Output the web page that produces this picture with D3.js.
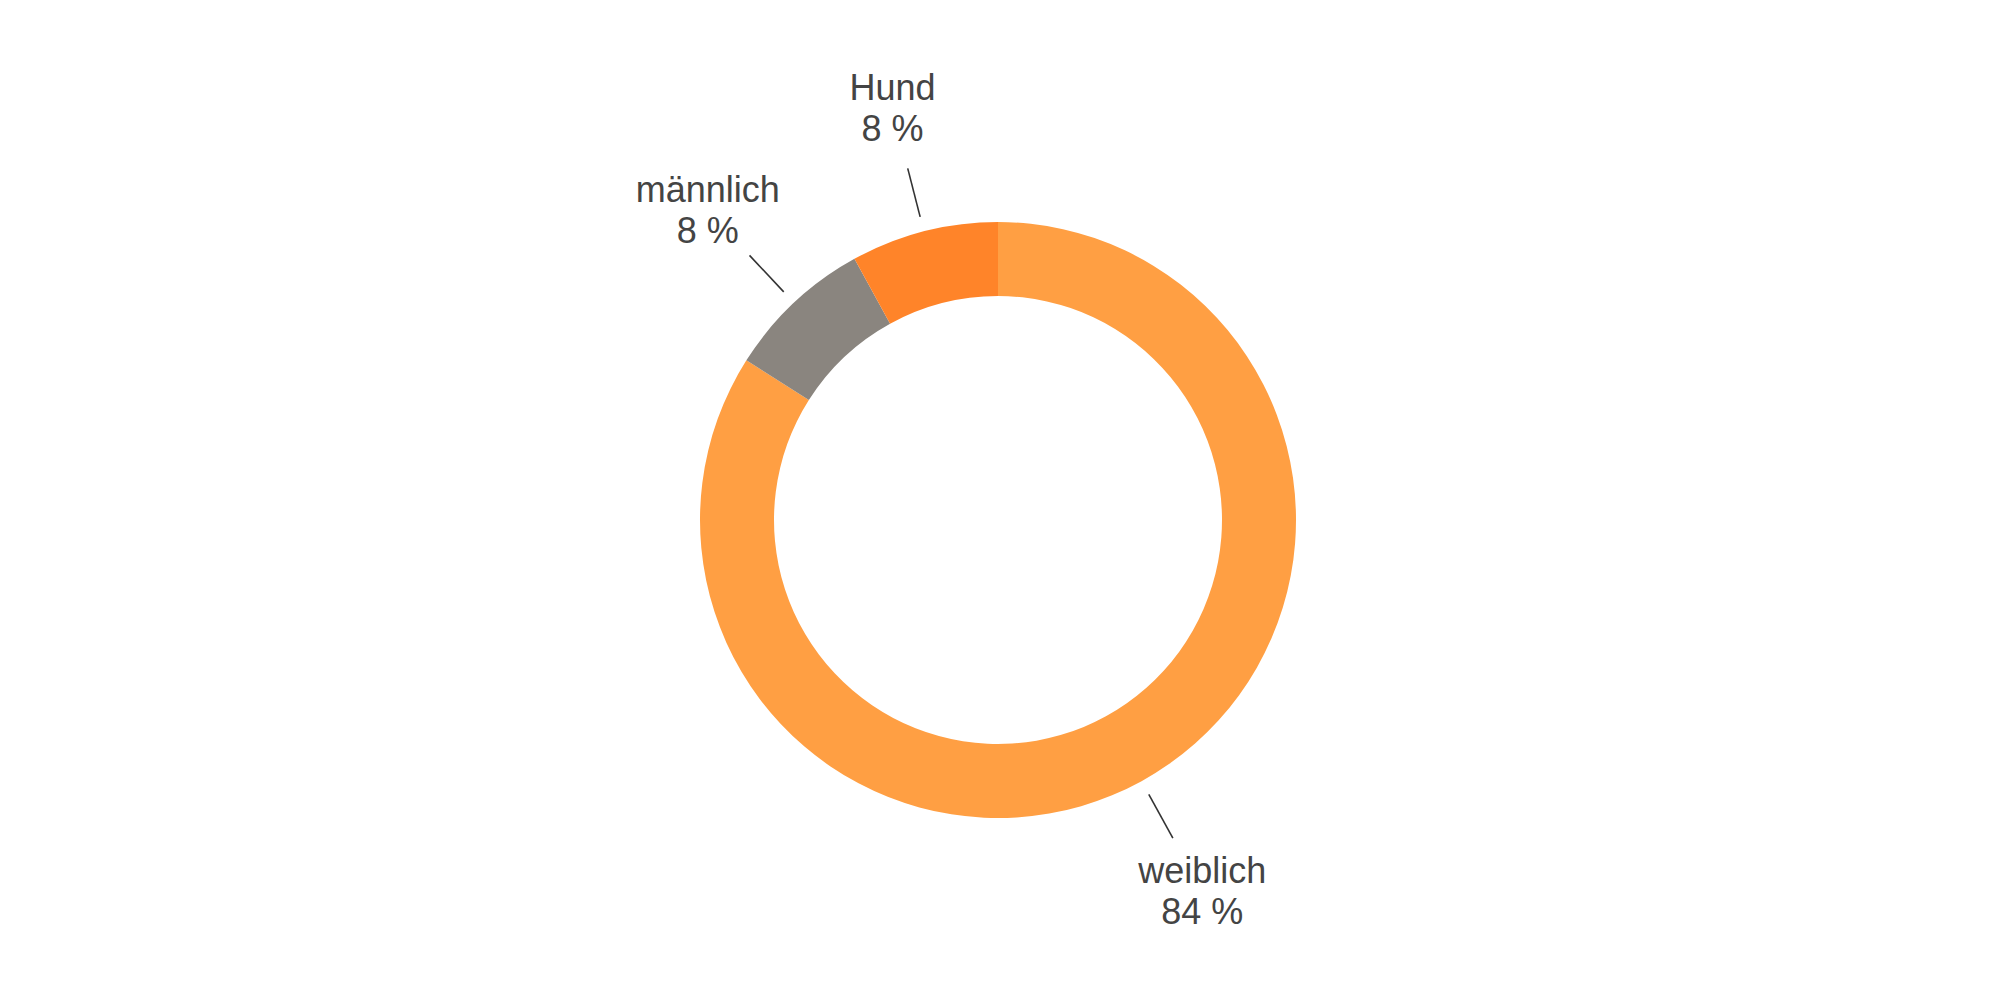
<!DOCTYPE html>
<html>
<head>
<meta charset="utf-8">
<script src="https://cdn.jsdelivr.net/npm/d3@7"></script>
<style>
  body { margin: 0; background: #fff; }
</style>
</head>
<body>
<script>
// Datos del gráfico
const categorias = ["weiblich", "männlich", "Hund"];
const valores = [84, 8, 8];
const colores = ["#FF9F43", "#8A857F", "#FF8429"];

const ancho = 2000, alto = 1000;
const cx = 998, cy = 520;

const svg = d3.select("body").append("svg")
  .attr("width", ancho)
  .attr("height", alto);

const g = svg.append("g").attr("transform", `translate(${cx},${cy})`);

// Pie sin ordenar, empezando arriba y en sentido horario
const pie = d3.pie().sort(null).value((d) => d.valor);
const datos = pie(categorias.map((c, i) => ({ nombre: c, valor: valores[i], color: colores[i] })));

const arco = d3.arc().innerRadius(224).outerRadius(298);

g.selectAll("path")
  .data(datos)
  .join("path")
  .attr("d", arco)
  .attr("fill", (d) => d.data.color);

// Arcos auxiliares para las líneas y etiquetas
const radio = (r) => d3.arc().innerRadius(r).outerRadius(r);
const lineaIni = radio(313), lineaFin = radio(363), etiqueta = radio(424);

g.selectAll("line")
  .data(datos)
  .join("line")
  .attr("x1", (d) => lineaIni.centroid(d)[0])
  .attr("y1", (d) => lineaIni.centroid(d)[1])
  .attr("x2", (d) => lineaFin.centroid(d)[0])
  .attr("y2", (d) => lineaFin.centroid(d)[1])
  .attr("stroke", "#333")
  .attr("stroke-width", 1.6);

const textos = g.selectAll("text")
  .data(datos)
  .join("text")
  .attr("transform", (d) => `translate(${etiqueta.centroid(d)})`)
  .attr("text-anchor", "middle")
  .attr("font-family", "'Liberation Sans', Arial, sans-serif")
  .attr("font-size", 36)
  .attr("fill", "#444");

textos.append("tspan")
  .attr("x", 0)
  .attr("y", -9)
  .text((d) => d.data.nombre);

textos.append("tspan")
  .attr("x", 0)
  .attr("y", 32)
  .text((d) => d.data.valor + " %");
</script>
</body>
</html>
